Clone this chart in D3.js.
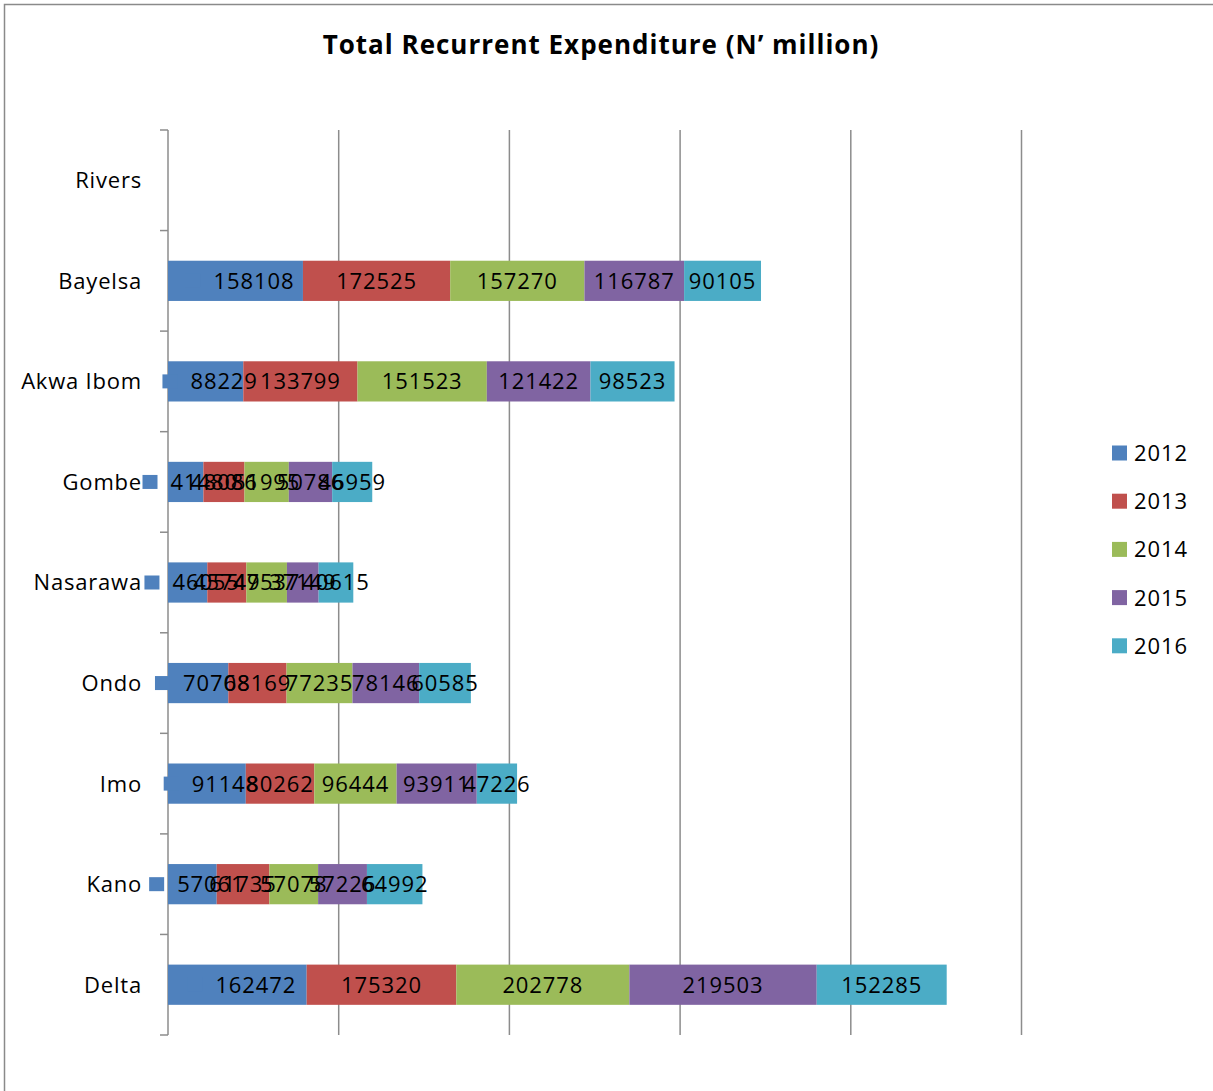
<!DOCTYPE html>
<html>
<head>
<meta charset="utf-8">
<script src="https://cdn.jsdelivr.net/npm/d3@7"></script>
<style>
  html, body { margin: 0; padding: 0; background: #fff; }
  svg { display: block; }
  text { font-family: "Open Sans", "Noto Sans", sans-serif; fill: #000; }
</style>
</head>
<body>
<svg id="chart" width="1213" height="1091"></svg>
<script>
// Total recurrent expenditure by state, N' million
const categories = ["Rivers", "Bayelsa", "Akwa Ibom", "Gombe", "Nasarawa", "Ondo", "Imo", "Kano", "Delta"];
const years = ["2012", "2013", "2014", "2015", "2016"];
const v2012 = [null, 158108, 88229, 41480, 46055, 70708, 91148, 57061, 162472];
const v2013 = [null, 172525, 133799, 48086, 45749, 68169, 80262, 61735, 175320];
const v2014 = [null, 157270, 151523, 51995, 47537, 77235, 96444, 57078, 202778];
const v2015 = [null, 116787, 121422, 50786, 37149, 78146, 93911, 57226, 219503];
const v2016 = [null, 90105, 98523, 46959, 40615, 60585, 47226, 64992, 152285];
const valueTicks = [0, 200000, 400000, 600000, 800000, 1000000];
const colors = ["#4F81BD", "#C0504D", "#9BBB59", "#8064A2", "#4BACC6"];

const seriesValues = [v2012, v2013, v2014, v2015, v2016];
const rows = categories.map((c, i) => {
  const r = { category: c };
  years.forEach((y, k) => { r[y] = seriesValues[k][i]; });
  return r;
});

const svg = d3.select("#chart");

// chart frame
svg.append("rect")
  .attr("x", 4.5).attr("y", 4.5)
  .attr("width", 1400).attr("height", 1400)
  .attr("fill", "#fff").attr("stroke", "#8a8a8a").attr("stroke-width", 1.5);

// title
svg.append("text")
  .attr("x", 601).attr("y", 54)
  .attr("text-anchor", "middle")
  .style("font-size", "26px").style("font-weight", "bold")
  .style("letter-spacing", "1px")
  .text("Total Recurrent Expenditure (N\u2019 million)");

const plot = { left: 168, right: 1021.5, top: 130, bottom: 1035 };

const x = d3.scaleLinear().domain([0, 1000000]).range([plot.left, plot.right]);
const y = d3.scaleBand().domain(categories).range([plot.top, plot.bottom]).paddingInner(0.6).paddingOuter(0.3);

// vertical gridlines
svg.append("g")
  .selectAll("line")
  .data(valueTicks.slice(1))
  .join("line")
  .attr("x1", d => x(d)).attr("x2", d => x(d))
  .attr("y1", plot.top).attr("y2", plot.bottom)
  .attr("stroke", "#8c8c8c").attr("stroke-width", 1.5);

// category axis with outward ticks at band boundaries
const axisG = svg.append("g");
axisG.append("line")
  .attr("x1", plot.left).attr("x2", plot.left)
  .attr("y1", plot.top).attr("y2", plot.bottom)
  .attr("stroke", "#8c8c8c").attr("stroke-width", 1.5);
const step = (plot.bottom - plot.top) / categories.length;
axisG.selectAll("line.tick")
  .data(d3.range(categories.length + 1))
  .join("line")
  .attr("class", "tick")
  .attr("x1", plot.left - 8).attr("x2", plot.left)
  .attr("y1", i => plot.top + i * step).attr("y2", i => plot.top + i * step)
  .attr("stroke", "#8c8c8c").attr("stroke-width", 1.5);

// category labels
svg.append("g")
  .selectAll("text")
  .data(categories)
  .join("text")
  .attr("x", 142)
  .attr("y", d => y(d) + y.bandwidth() / 2)
  .attr("dy", "0.36em")
  .attr("text-anchor", "end")
  .style("font-size", "22px")
  .style("letter-spacing", "0.8px")
  .text(d => d);

// stacked bars
const stack = d3.stack().keys(years).value((d, k) => d[k] == null ? 0 : d[k]);
const stacked = stack(rows);

const barG = svg.append("g");
stacked.forEach((s, k) => {
  barG.append("g")
    .attr("fill", colors[k])
    .selectAll("rect")
    .data(s.filter(d => d.data[years[k]] != null))
    .join("rect")
    .attr("x", d => x(d[0]))
    .attr("y", d => y(d.data.category))
    .attr("width", d => x(d[1]) - x(d[0]))
    .attr("height", y.bandwidth());
});

// value labels (first series carries a legend key)
const labelG = svg.append("g");
stacked.forEach((s, k) => {
  s.filter(d => d.data[years[k]] != null).forEach(d => {
    const cx = (x(d[0]) + x(d[1])) / 2;
    const cy = y(d.data.category) + y.bandwidth() / 2;
    const t = labelG.append("text")
      .attr("y", cy).attr("dy", "0.36em")
      .attr("text-anchor", "middle")
      .style("font-size", "22px")
      .style("letter-spacing", "0.9px")
      .text(d.data[years[k]]);
    if (k === 0) {
      const tx = cx + 18.5;
      t.attr("x", tx);
      const w = t.node().getComputedTextLength();
      labelG.insert("rect", () => t.node())
        .attr("x", tx - w / 2 - 28)
        .attr("y", cy - 7)
        .attr("width", 15).attr("height", 14)
        .attr("fill", colors[0]);
    } else {
      t.attr("x", cx);
    }
  });
});

// legend
const legend = svg.append("g");
years.forEach((yr, k) => {
  const ly = 453 + k * 48.2;
  legend.append("rect")
    .attr("x", 1112).attr("y", ly - 7.5)
    .attr("width", 15).attr("height", 15)
    .attr("fill", colors[k]);
  legend.append("text")
    .attr("x", 1134).attr("y", ly).attr("dy", "0.36em")
    .style("font-size", "22px")
    .style("letter-spacing", "0.9px")
    .text(yr);
});
</script>
</body>
</html>
